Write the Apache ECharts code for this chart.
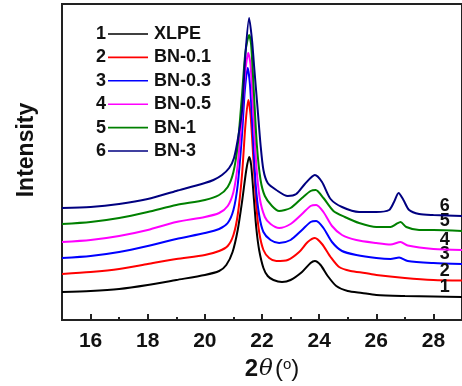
<!DOCTYPE html>
<html>
<head>
<meta charset="utf-8">
<script src="https://cdn.jsdelivr.net/npm/echarts@6/dist/echarts.min.js"></script>
<style>html,body{margin:0;padding:0;background:#fff}#c{width:462px;height:386px}</style>
</head>
<body>
<div id="c"></div>
<script>
// Data (intensity in arbitrary units, curves offset as in the plot)
const names = ['XLPE', 'BN-0.1', 'BN-0.3', 'BN-0.5', 'BN-1', 'BN-3'];
const numbers = ['1', '2', '3', '4', '5', '6'];
const colors = ['#000000', '#ff0000', '#0000ff', '#ff00ff', '#008000', '#000080'];
const xTickLabels = [16, 18, 20, 22, 24, 26, 28];
const xMinorTicks = [17, 19, 21, 23, 25, 27];

const xlpe = [[15,28],[16,29],[17,31],[18,35],[19,40],[20,45],[20.5,49],[20.75,55],[20.97,68],[21.15,90],[21.31,120],[21.45,150],[21.55,163],[21.62,155],[21.72,120],[21.8,92],[21.9,70],[22.05,52],[22.2,44],[22.4,40],[22.7,38],[23.0,40],[23.4,48],[23.7,57],[23.85,59],[24.05,55],[24.3,44],[24.6,34],[25.0,29],[25.5,27],[26,25],[27,24],[28,23.5],[29,23]];
const bn01 = [[15,46],[16,48],[17,51],[18,56],[19,61],[20,65],[20.5,69],[20.8,74],[21.0,85],[21.15,105],[21.3,145],[21.42,195],[21.52,220],[21.6,205],[21.7,160],[21.8,115],[21.9,88],[22.05,70],[22.25,62],[22.5,59],[22.9,60],[23.3,68],[23.6,78],[23.85,82],[24.1,76],[24.4,63],[24.7,53],[25.1,49],[25.6,47],[26,45],[27,42],[28,40],[29,39.5]];
const bn03 = [[15,62],[16,64],[17,68],[18,74],[19,81],[20,87],[20.5,91],[20.8,97],[21.0,110],[21.15,135],[21.3,185],[21.4,230],[21.5,252],[21.58,235],[21.68,185],[21.78,135],[21.9,105],[22.05,88],[22.3,80],[22.6,77],[23.0,80],[23.4,90],[23.7,98],[23.9,99],[24.15,92],[24.45,78],[24.8,69],[25.3,65],[26,62],[26.5,61],[26.8,62.5],[27.1,59],[28,57],[29,56]];
const bn05 = [[15,78],[16,80],[17,84],[18,90],[19,98],[20,103],[20.5,107],[20.8,114],[21.0,128],[21.15,155],[21.3,205],[21.42,250],[21.52,267],[21.6,255],[21.7,205],[21.8,155],[21.92,122],[22.1,103],[22.3,96],[22.6,92],[23.0,96],[23.4,106],[23.7,114],[23.9,115],[24.15,108],[24.45,94],[24.8,85],[25.3,80],[26,77],[26.5,75.5],[26.85,78],[27.1,74.5],[28,71],[29,70]];
const bn1 = [[15,96],[16,98],[17,102],[18,108],[19,115],[20,120],[20.5,125],[20.8,133],[21.0,148],[21.15,175],[21.3,225],[21.42,268],[21.55,285],[21.62,275],[21.72,225],[21.82,175],[21.95,140],[22.1,124],[22.35,114],[22.6,109],[23.0,112],[23.4,122],[23.7,129],[23.88,130],[24.15,122],[24.5,109],[24.9,103],[25.4,97],[26,93],[26.5,93],[26.7,96],[26.85,98],[27.05,93],[27.5,90],[28,90],[29,89]];
const bn3 = [[15,112],[16,113],[17,116],[18,121],[19,129],[20,137],[20.3,140],[20.6,145],[20.85,152],[21.02,162],[21.18,185],[21.31,212],[21.41,262],[21.55,302],[21.65,280],[21.72,255],[21.85,210],[21.95,175],[22.05,150],[22.2,137],[22.5,130],[22.9,124],[23.2,126],[23.5,136],[23.85,145],[24.1,138],[24.4,121],[24.8,113],[25.4,108],[26.0,108],[26.45,110],[26.62,118],[26.78,127],[26.95,120],[27.15,110],[27.5,106],[28,105],[29,104]];
const curves = [xlpe, bn01, bn03, bn05, bn1, bn3];

const FONT = 'Liberation Sans, Arial, sans-serif';
const chart = echarts.init(document.getElementById('c'), null, {renderer: 'canvas'});

function valueAt(curve, x) {
  for (let i = 1; i < curve.length; i++) {
    if (curve[i][0] >= x) {
      const a = curve[i-1], b = curve[i];
      return a[1] + (b[1]-a[1]) * (x - a[0]) / (b[0] - a[0]);
    }
  }
  return curve[curve.length-1][1];
}

const series = curves.map((c, i) => ({
  name: names[i],
  type: 'line',
  data: c,
  symbol: 'none',
  smooth: 0.25,
  lineStyle: {color: colors[i], width: 2},
  itemStyle: {color: colors[i]},
  z: 2 + i,
  markPoint: {
    symbol: 'circle', symbolSize: 1,
    itemStyle: {color: 'rgba(0,0,0,0)'},
    data: [{coord: [28.4, valueAt(c, 28.4)], value: numbers[i]}],
    label: {show: true, position: 'top', distance: 0, formatter: numbers[i],
      fontFamily: FONT, fontSize: 18, fontWeight: 'bold', color: '#111'}
  }
}));

const lineIcon = 'path://M0,0 L40,0 L40,1.6 L0,1.6 Z';

chart.setOption({
  animation: false,
  backgroundColor: '#fff',
  grid: {left: 62, top: 4, right: -1, bottom: 66, show: true, borderColor: '#222', borderWidth: 2, backgroundColor: 'transparent'},
  legend: [
    {
      data: names.map(n => ({name: n, icon: lineIcon})), orient: 'vertical', left: 96, top: 25, align: 'right', padding: 0,
      itemWidth: 40, itemHeight: 18, itemGap: 5.4,
      formatter: (n) => numbers[names.indexOf(n)],
      textStyle: {fontFamily: FONT, fontSize: 18, fontWeight: 'bold', color: '#111', lineHeight: 18, padding: [0, -3, 0, 0]},
      selectedMode: false
    },
    {
      data: names, orient: 'vertical', left: 149, top: 25, icon: 'none', padding: 0,
      itemWidth: 0, itemHeight: 18, itemGap: 5.4,
      textStyle: {fontFamily: FONT, fontSize: 18, fontWeight: 'bold', color: '#111', lineHeight: 18},
      selectedMode: false
    }
  ],
  xAxis: [
    {
      type: 'value', min: 15, max: 29, interval: 1,
      name: '{a|2}{b|θ}{c|(}{d|o}{c|)}', nameLocation: 'middle', nameGap: 36,
      nameTextStyle: {padding: [0, 0, 0, 20], rich: {
        a: {fontFamily: FONT, fontSize: 24, fontWeight: 'bold', color: '#111'},
        b: {fontFamily: 'DejaVu Serif, serif', fontSize: 23, fontStyle: 'italic', color: '#111', padding: [0, 2, 0, 1]},
        c: {fontFamily: FONT, fontSize: 24, color: '#111'},
        d: {fontFamily: FONT, fontSize: 15, color: '#111', verticalAlign: 'top', padding: [0, 0, 9, 0]}
      }},
      axisLine: {lineStyle: {color: '#222', width: 2}},
      axisTick: {inside: true, length: 6, customValues: xTickLabels, lineStyle: {color: '#222', width: 2}},
      axisLabel: {customValues: xTickLabels, margin: 11, fontFamily: FONT, fontSize: 21, fontWeight: 'bold', color: '#111'},
      splitLine: {show: false}
    },
    {
      type: 'value', min: 15, max: 29, interval: 1, position: 'bottom',
      axisLine: {show: false},
      axisTick: {inside: true, length: 3, customValues: xMinorTicks, lineStyle: {color: '#222', width: 2}},
      axisLabel: {show: false},
      splitLine: {show: false}
    }
  ],
  yAxis: {
    type: 'value', min: 0, max: 316,
    name: 'Intensity', nameLocation: 'middle', nameGap: 24,
    nameTextStyle: {fontFamily: FONT, fontSize: 23, fontWeight: 'bold', color: '#111', padding: [0, 0, 0, 24]},
    axisLine: {lineStyle: {color: '#222', width: 2}},
    axisTick: {show: false}, axisLabel: {show: false}, splitLine: {show: false}
  },
  series: series
});
</script>
</body>
</html>
